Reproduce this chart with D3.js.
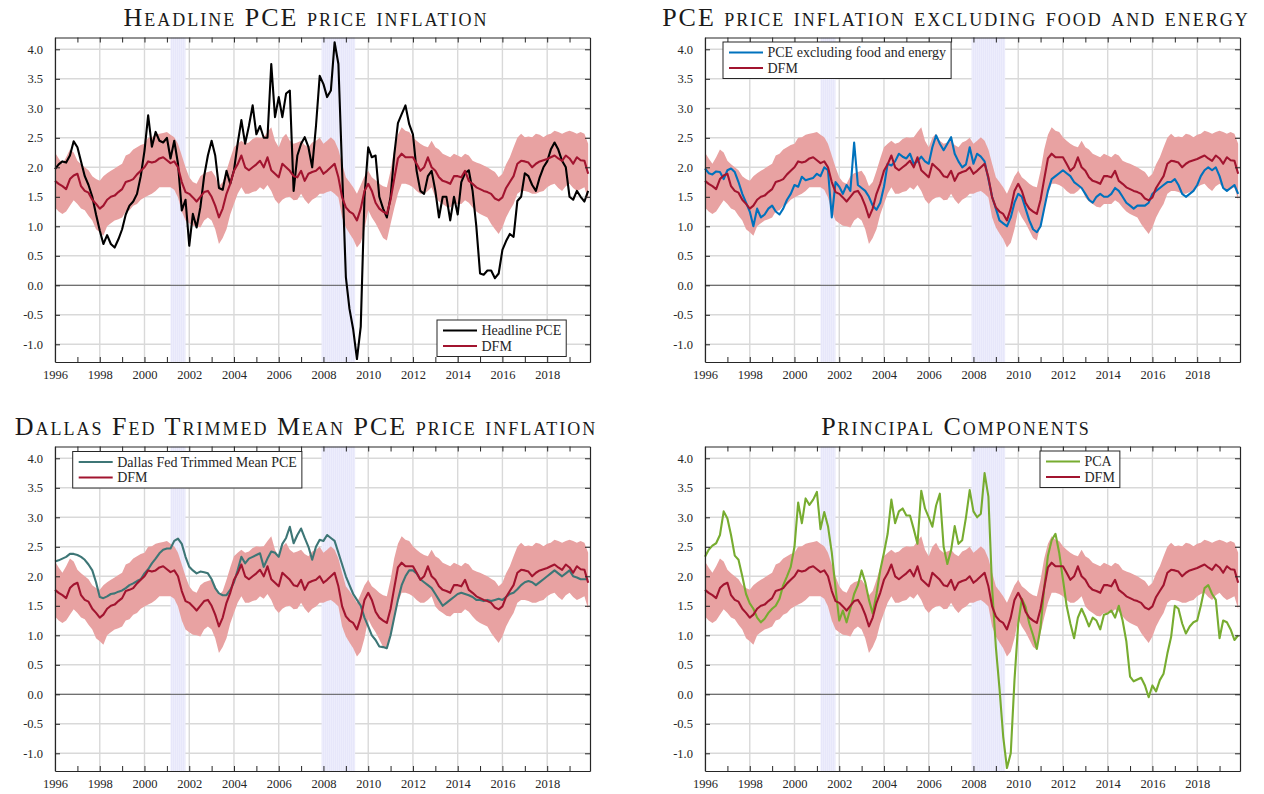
<!DOCTYPE html>
<html>
<head>
<meta charset="utf-8">
<script src="https://cdn.jsdelivr.net/npm/d3@7"></script>
<style>
  body { margin: 0; background: #fff; }
  text { font-family: "Liberation Serif", "DejaVu Serif", serif; fill: #262626; }
</style>
</head>
<body>
<svg id="chart" width="1264" height="794"></svg>
<script>
// bi-monthly observations, Jan 1996 .. Nov 2019 (one row per year)
var dfm = [
  1.77, 1.72, 1.68, 1.63, 1.80, 1.86,
  1.89, 1.68, 1.60, 1.57, 1.45, 1.38,
  1.30, 1.35, 1.45, 1.50, 1.52, 1.58,
  1.63, 1.75, 1.77, 1.80, 1.88, 1.94,
  2.00, 2.10, 2.08, 2.10, 2.15, 2.17,
  2.12, 2.07, 2.10, 2.00, 1.75, 1.58,
  1.55, 1.49, 1.42, 1.50, 1.58, 1.60,
  1.50, 1.35, 1.15, 1.30, 1.55, 1.72,
  1.94, 2.05, 2.20, 2.00, 1.95, 2.00,
  2.05, 2.11, 2.00, 2.17, 1.95, 1.89,
  1.83, 2.06, 2.00, 1.94, 1.85, 1.83,
  1.94, 1.77, 1.89, 1.92, 1.94, 2.00,
  1.89, 1.94, 2.00, 2.06, 1.83, 1.49,
  1.32, 1.25, 1.21, 1.10, 1.30, 1.60,
  1.72, 1.60, 1.40, 1.30, 1.25, 1.21,
  1.45, 1.80, 2.15, 2.23, 2.17, 2.17,
  2.17, 2.06, 1.94, 2.00, 2.17, 2.00,
  1.94, 1.83, 1.77, 1.75, 1.72, 1.85,
  1.85, 1.83, 1.94, 1.77, 1.72, 1.66,
  1.63, 1.60, 1.58, 1.55, 1.47, 1.44,
  1.49, 1.65, 1.75, 1.85, 2.06, 2.11,
  2.10, 2.08, 2.00, 2.06, 2.10, 2.12,
  2.14, 2.17, 2.20, 2.15, 2.11, 2.20,
  2.15, 2.06, 2.17, 2.12, 2.11, 1.89
];

var dfmHigh = [
  2.25, 2.15, 2.06, 2.17, 2.30, 2.25,
  2.11, 2.05, 2.00, 1.95, 1.85, 1.80,
  1.77, 1.85, 1.90, 1.94, 1.98, 2.02,
  2.06, 2.20, 2.23, 2.30, 2.34, 2.38,
  2.40, 2.50, 2.51, 2.55, 2.57, 2.58,
  2.60, 2.55, 2.51, 2.40, 2.20, 2.00,
  1.83, 1.75, 1.72, 1.85, 1.90, 1.92,
  1.94, 1.85, 1.68, 1.75, 1.94, 2.15,
  2.34, 2.40, 2.45, 2.40, 2.42, 2.48,
  2.51, 2.50, 2.51, 2.60, 2.68, 2.45,
  2.34, 2.50, 2.57, 2.45, 2.40, 2.42,
  2.45, 2.38, 2.34, 2.42, 2.45, 2.50,
  2.40, 2.45, 2.51, 2.45, 2.30, 2.06,
  1.83, 1.75, 1.66, 1.55, 1.70, 1.85,
  1.94, 1.83, 1.78, 1.72, 1.68, 1.66,
  1.94, 2.30, 2.55, 2.68, 2.62, 2.60,
  2.51, 2.45, 2.40, 2.36, 2.34, 2.45,
  2.34, 2.30, 2.23, 2.20, 2.17, 2.23,
  2.20, 2.17, 2.23, 2.20, 2.11, 2.08,
  2.06, 2.03, 2.00, 1.96, 1.92, 1.83,
  1.89, 2.05, 2.17, 2.34, 2.50, 2.57,
  2.51, 2.52, 2.51, 2.57, 2.55, 2.51,
  2.55, 2.57, 2.62, 2.60, 2.57, 2.60,
  2.62, 2.60, 2.57, 2.60, 2.57, 2.40
];

var dfmLow = [
  1.32, 1.25, 1.21, 1.25, 1.35, 1.44,
  1.38, 1.30, 1.27, 1.18, 1.10, 0.95,
  0.90, 0.84, 1.00, 1.05, 1.10, 1.12,
  1.15, 1.25, 1.27, 1.35, 1.38, 1.45,
  1.49, 1.52, 1.55, 1.60, 1.66, 1.66,
  1.66, 1.66, 1.62, 1.49, 1.25, 1.10,
  1.05, 1.01, 1.00, 0.98, 1.10, 1.15,
  1.10, 0.95, 0.70, 0.80, 0.95, 1.20,
  1.38, 1.55, 1.66, 1.55, 1.55, 1.58,
  1.60, 1.66, 1.62, 1.70, 1.60, 1.45,
  1.38, 1.45, 1.49, 1.50, 1.44, 1.45,
  1.55, 1.45, 1.38, 1.45, 1.49, 1.55,
  1.55, 1.58, 1.60, 1.55, 1.49, 1.15,
  0.98, 0.88, 0.78, 0.64, 0.72, 0.95,
  1.27, 1.15, 1.05, 0.93, 0.80, 0.76,
  1.04, 1.30, 1.55, 1.72, 1.72, 1.70,
  1.66, 1.60, 1.55, 1.55, 1.60, 1.66,
  1.49, 1.42, 1.38, 1.33, 1.32, 1.38,
  1.38, 1.38, 1.44, 1.40, 1.32, 1.25,
  1.21, 1.18, 1.15, 1.04, 0.95, 0.87,
  0.98, 1.15, 1.27, 1.38, 1.55, 1.60,
  1.60, 1.58, 1.55, 1.55, 1.58, 1.60,
  1.66, 1.70, 1.72, 1.65, 1.60, 1.68,
  1.72, 1.65, 1.60, 1.63, 1.66, 1.44
];

var headline = [
  1.97, 2.05, 2.10, 2.08, 2.20, 2.44,
  2.34, 2.10, 1.85, 1.70, 1.50, 1.20,
  0.93, 0.70, 0.85, 0.70, 0.64, 0.78,
  0.95, 1.20, 1.35, 1.42, 1.55, 1.85,
  2.28, 2.88, 2.35, 2.60, 2.45, 2.42,
  2.50, 2.15, 2.45, 2.06, 1.27, 1.45,
  0.67, 1.21, 0.98, 1.32, 1.85, 2.20,
  2.45, 2.20, 1.65, 1.62, 1.94, 1.72,
  1.95, 2.40, 2.80, 2.40, 2.70, 3.05,
  2.56, 2.70, 2.50, 2.50, 3.75, 2.85,
  3.19, 2.85, 3.25, 3.30, 1.60, 2.20,
  2.40, 2.51, 2.34, 2.00, 2.70, 3.55,
  3.41, 3.19, 3.30, 4.12, 3.75, 1.94,
  0.14, -0.40, -0.75, -1.25, -0.70, 1.50,
  2.34, 2.17, 2.20, 1.50, 1.30, 1.15,
  1.50, 2.20, 2.75, 2.90, 3.05, 2.73,
  2.56, 1.94, 1.60, 1.55, 1.85, 1.94,
  1.60, 1.15, 1.50, 1.50, 1.10, 1.50,
  1.20, 1.75, 1.90, 1.95, 1.60, 1.00,
  0.20, 0.18, 0.25, 0.25, 0.12, 0.20,
  0.60, 0.75, 0.87, 0.82, 1.43, 1.50,
  1.90, 1.85, 1.70, 1.60, 1.83, 2.00,
  2.10, 2.30, 2.42, 2.30, 2.11, 2.00,
  1.50, 1.45, 1.60, 1.50, 1.42, 1.60
];

var core = [
  1.98, 1.90, 1.88, 1.93, 1.92, 1.80,
  1.95, 1.98, 1.92, 1.75, 1.55, 1.40,
  1.25, 1.00, 1.30, 1.15, 1.20, 1.30,
  1.35, 1.25, 1.20, 1.30, 1.45, 1.55,
  1.70, 1.67, 1.84, 1.78, 1.80, 1.82,
  1.89, 1.85, 2.00, 1.95, 1.15, 1.75,
  1.67, 1.55, 1.70, 1.60, 2.42, 1.70,
  1.65, 1.60, 1.50, 1.35, 1.28, 1.40,
  1.67, 2.06, 2.03, 2.10, 2.23, 2.18,
  2.15, 2.23, 2.06, 2.10, 2.18, 2.10,
  2.06, 2.34, 2.54, 2.40, 2.29, 2.40,
  2.51, 2.23, 2.10, 2.00, 2.05, 2.34,
  2.06, 2.23, 2.18, 2.10, 1.80, 1.50,
  1.30, 1.10, 1.05, 1.00, 1.15, 1.40,
  1.55, 1.50, 1.30, 1.10, 0.95, 0.90,
  1.00, 1.30, 1.60, 1.80, 1.85, 1.90,
  1.95, 1.90, 1.85, 1.75, 1.70, 1.65,
  1.55, 1.45, 1.40, 1.50, 1.55, 1.50,
  1.50, 1.55, 1.65, 1.60, 1.50, 1.40,
  1.35, 1.30, 1.35, 1.35, 1.35, 1.40,
  1.55, 1.60, 1.65, 1.70, 1.75, 1.75,
  1.80, 1.70, 1.55, 1.50, 1.55, 1.60,
  1.70, 1.85, 1.95, 2.00, 1.95, 2.00,
  1.85, 1.65, 1.60, 1.65, 1.70, 1.55
];

var trimmed = [
  2.25, 2.27, 2.30, 2.33, 2.38, 2.38,
  2.36, 2.33, 2.28, 2.20, 2.10, 1.90,
  1.65, 1.63, 1.66, 1.70, 1.71, 1.74,
  1.76, 1.80, 1.85, 1.88, 1.92, 1.95,
  2.05, 2.12, 2.22, 2.30, 2.39, 2.45,
  2.47, 2.47, 2.60, 2.64, 2.55, 2.33,
  2.16, 2.10, 2.05, 2.08, 2.07, 2.05,
  1.95, 1.80, 1.71, 1.68, 1.68, 1.77,
  1.90, 2.10, 2.33, 2.22, 2.30, 2.33,
  2.36, 2.39, 2.16, 2.30, 2.42, 2.40,
  2.33, 2.55, 2.65, 2.84, 2.56, 2.70,
  2.81, 2.65, 2.50, 2.28, 2.50, 2.62,
  2.60, 2.70, 2.65, 2.60, 2.40, 2.20,
  2.00, 1.85, 1.70, 1.60, 1.50, 1.30,
  1.15, 1.00, 0.92, 0.81, 0.80, 0.78,
  1.00, 1.30, 1.60, 1.85, 2.00, 2.10,
  2.10, 2.05, 1.95, 1.90, 1.85, 1.80,
  1.70, 1.60, 1.50, 1.55, 1.60, 1.65,
  1.70, 1.72, 1.70, 1.68, 1.65, 1.60,
  1.60, 1.58, 1.60, 1.58, 1.60, 1.62,
  1.60, 1.65, 1.70, 1.72, 1.78, 1.85,
  1.90, 1.92, 1.90, 1.85, 1.90, 1.95,
  2.00, 2.05, 2.10, 2.05, 2.00, 2.05,
  2.10, 2.00, 1.98, 1.95, 1.95, 1.95
];

var pca = [
  2.33, 2.45, 2.52, 2.56, 2.70, 3.10,
  2.98, 2.70, 2.35, 2.28, 2.00, 1.70,
  1.54, 1.45, 1.30, 1.22, 1.28, 1.38,
  1.45, 1.50, 1.62, 1.85, 2.00, 2.16,
  2.50, 3.25, 2.90, 3.32, 3.21, 3.30,
  3.43, 2.80, 3.09, 2.85, 2.40, 1.80,
  1.25, 1.42, 1.22, 1.45, 1.70, 1.85,
  2.10, 1.90, 1.60, 1.37, 1.70, 2.10,
  2.40, 2.72, 3.30, 2.90, 3.10, 3.15,
  3.03, 3.03, 2.80, 2.55, 3.45, 3.15,
  3.00, 2.84, 3.20, 3.40, 2.50, 2.21,
  2.44, 2.85, 2.55, 2.61, 3.00, 3.46,
  3.10, 3.00, 3.06, 3.75, 3.35, 1.80,
  0.80, 0.10, -0.72, -1.25, -1.00, 0.24,
  1.20, 1.62, 1.48, 1.20, 1.00, 0.77,
  1.14, 1.80, 2.35, 2.61, 2.72, 2.40,
  1.95, 1.50, 1.20, 0.95, 1.30, 1.45,
  1.31, 1.15, 1.30, 1.25, 1.10, 1.35,
  1.37, 1.42, 1.30, 1.50, 1.25, 0.90,
  0.30, 0.22, 0.25, 0.28, 0.15, -0.05,
  0.15, 0.05, 0.24, 0.35, 0.69, 0.97,
  1.50, 1.45, 1.20, 1.03, 1.15, 1.22,
  1.25, 1.50, 1.80, 1.85, 1.70, 1.60,
  0.95, 1.25, 1.22, 1.10, 0.92, 1.00
];

// NBER recessions
var recessions = [
  [new Date(2001, 2, 1), new Date(2001, 10, 1)],
  [new Date(2007, 11, 1), new Date(2009, 5, 1)]
];

var yTicks = [-1.0, -0.5, 0.0, 0.5, 1.0, 1.5, 2.0, 2.5, 3.0, 3.5, 4.0];
var xLabelYears = [1996, 1998, 2000, 2002, 2004, 2006, 2008, 2010, 2012, 2014, 2016, 2018];

var dates = dfm.map((d, i) => new Date(1996, i * 2, 1));

var panels = [
  {title: "Headline PCE price inflation", name: "Headline PCE", values: headline, color: "#000000",
   left: 55, top: 37.5, legend: [382, 282.5]},
  {title: "PCE price inflation excluding food and energy", name: "PCE excluding food and energy", values: core, color: "#0072bd",
   left: 705, top: 37.5, legend: [18, 4.5]},
  {title: "Dallas Fed Trimmed Mean PCE price inflation", name: "Dallas Fed Trimmed Mean PCE", values: trimmed, color: "#3d7676",
   left: 55, top: 446.5, legend: [17.7, 5]},
  {title: "Principal Components", name: "PCA", values: pca, color: "#77ac30",
   left: 705, top: 446.5, legend: [335, 4.5]}
];

var plotW = 535, plotH = 324.5;
var dfmColor = "#a2142f";
var bandColor = "#e8a2a2";

var svg = d3.select('#chart');

// faint stripes for the recession shading
var pat = svg.append('defs').append('pattern')
    .attr('id', 'rec')
    .attr('width', 2).attr('height', 10)
    .attr('patternUnits', 'userSpaceOnUse');
pat.append('rect').attr('width', 2).attr('height', 10).attr('fill', '#ededfc');
pat.append('rect').attr('width', 0.6).attr('height', 10).attr('fill', '#e3e3f9');

var x = d3.scaleTime()
    .domain([new Date(1996, 0, 1), new Date(2019, 11, 1)])
    .range([0, plotW]);

var y = d3.scaleLinear()
    .domain([-1.3, 4.2])
    .range([plotH, 0]);

var allYears = d3.timeYear.range(new Date(1996, 0, 1), new Date(2020, 0, 1));

panels.forEach(p => {
  var g = svg.append('g')
      .attr('transform', 'translate(' + p.left + ',' + p.top + ')');

  // title
  svg.append('text')
      .attr('x', p.left + 251)
      .attr('y', p.top - 11.5)
      .attr('text-anchor', 'middle')
      .style('font-size', '26px')
      .style('font-variant', 'small-caps')
      .style('letter-spacing', '2px')
      .style('fill', '#1a1a1a')
      .text(p.title);

  // grid
  g.append('g').selectAll('line')
      .data(xLabelYears.map(yr => new Date(yr, 0, 1)))
      .enter().append('line')
        .attr('x1', d => x(d)).attr('x2', d => x(d))
        .attr('y1', 0).attr('y2', plotH)
        .attr('stroke', '#d9d9d9').attr('stroke-width', 1.4);
  g.append('g').selectAll('line')
      .data(yTicks)
      .enter().append('line')
        .attr('x1', 0).attr('x2', plotW)
        .attr('y1', d => y(d)).attr('y2', d => y(d))
        .attr('stroke', '#d9d9d9').attr('stroke-width', 1.4);

  // recession shading
  g.selectAll('rect.rec')
      .data(recessions)
      .enter().append('rect')
        .attr('class', 'rec')
        .attr('x', d => x(d[0]))
        .attr('width', d => x(d[1]) - x(d[0]))
        .attr('y', 0)
        .attr('height', plotH)
        .attr('fill', 'url(#rec)');

  // zero line
  g.append('line')
      .attr('x1', 0).attr('x2', plotW)
      .attr('y1', y(0)).attr('y2', y(0))
      .attr('stroke', '#555').attr('stroke-width', 1);

  // DFM band
  var area = d3.area()
      .x((d, i) => x(dates[i]))
      .y0((d, i) => y(dfmLow[i]))
      .y1((d, i) => y(dfmHigh[i]));
  g.append('path')
      .datum(dfm)
      .attr('d', area)
      .attr('fill', bandColor);

  var line = d3.line()
      .x((d, i) => x(dates[i]))
      .y(d => y(d));

  g.append('path')
      .datum(p.values)
      .attr('d', line)
      .attr('fill', 'none')
      .attr('stroke', p.color)
      .attr('stroke-width', 2.1)
      .attr('stroke-linejoin', 'round');

  g.append('path')
      .datum(dfm)
      .attr('d', line)
      .attr('fill', 'none')
      .attr('stroke', dfmColor)
      .attr('stroke-width', 2.1)
      .attr('stroke-linejoin', 'round');

  // axes, ticks pointing inwards
  g.append('g')
      .attr('transform', 'translate(0,' + plotH + ')')
      .call(d3.axisBottom(x)
        .tickValues(allYears)
        .tickSizeInner(-5).tickSizeOuter(0).tickPadding(8)
        .tickFormat(d => xLabelYears.indexOf(d.getFullYear()) >= 0 ? d.getFullYear() : ''));
  g.append('g')
      .call(d3.axisTop(x).tickValues(allYears).tickSizeInner(-5).tickSizeOuter(0).tickFormat(''));
  g.append('g')
      .call(d3.axisLeft(y).tickValues(yTicks)
        .tickSizeInner(-5).tickSizeOuter(0).tickPadding(12)
        .tickFormat(d => d.toFixed(1)));
  g.append('g')
      .attr('transform', 'translate(' + plotW + ',0)')
      .call(d3.axisRight(y).tickValues(yTicks).tickSizeInner(-5).tickSizeOuter(0).tickFormat(''));

  g.selectAll('.domain').attr('stroke', '#262626').attr('stroke-width', 1.2);
  g.selectAll('.tick line').attr('stroke', '#262626');
  g.selectAll('.tick text')
      .style('font-family', '"Liberation Serif", serif')
      .style('font-size', '12.5px')
      .attr('fill', '#262626');

  // legend
  var lg = g.append('g')
      .attr('transform', 'translate(' + p.legend[0] + ',' + p.legend[1] + ')');
  var box = lg.append('rect')
      .attr('height', 36.5)
      .attr('fill', '#fff')
      .attr('stroke', '#262626')
      .attr('stroke-width', 1);
  var entries = [[p.name, p.color], ['DFM', dfmColor]];
  var widest = 0;
  entries.forEach((e, i) => {
    lg.append('line')
        .attr('x1', 6).attr('x2', 40)
        .attr('y1', 10.5 + i * 15.5).attr('y2', 10.5 + i * 15.5)
        .attr('stroke', e[1]).attr('stroke-width', 2.1);
    var t = lg.append('text')
        .attr('x', 44.5)
        .attr('y', 10.5 + i * 15.5)
        .attr('dy', '0.35em')
        .style('font-size', '14px')
        .text(e[0]);
    widest = Math.max(widest, t.node().getComputedTextLength());
  });
  box.attr('width', 44.5 + widest + 5);
});
</script>
</body>
</html>
